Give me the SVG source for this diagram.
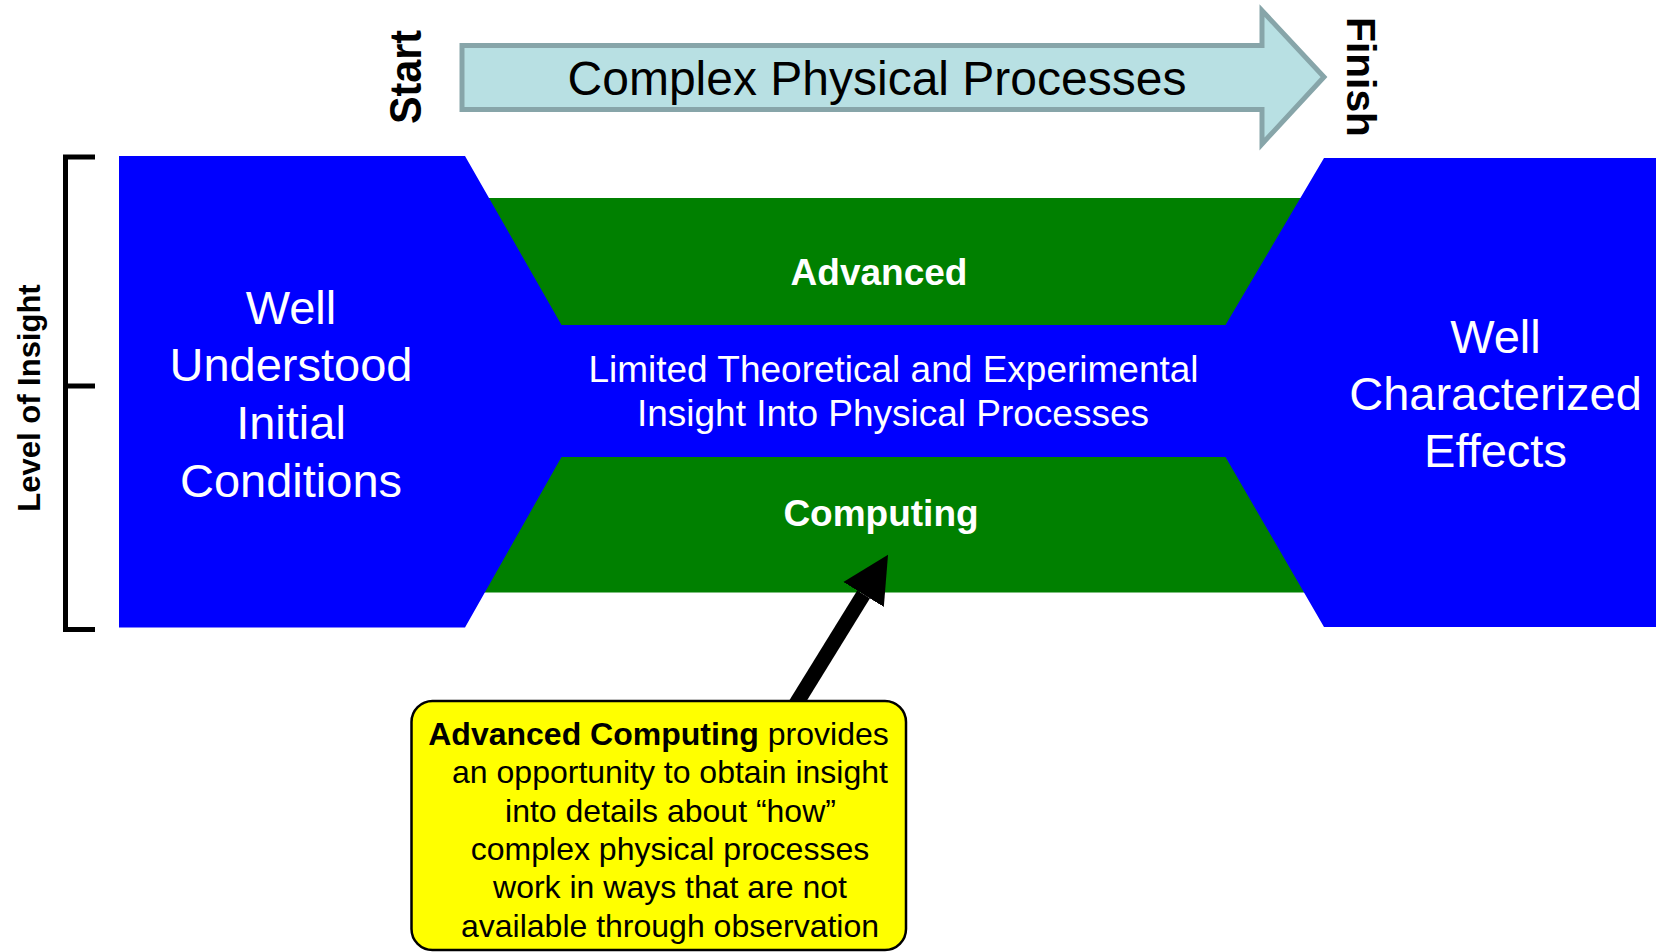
<svg xmlns="http://www.w3.org/2000/svg" width="1656" height="952" viewBox="0 0 1656 952">
  <style>
    text { font-family: "Liberation Sans", Arial, sans-serif; }
    .white { fill: #ffffff; }
    .big { font-size: 47px; text-anchor: middle; }
    .band { font-size: 37px; font-weight: bold; text-anchor: middle; }
    .mid { font-size: 37px; text-anchor: middle; }
    .note { font-size: 32px; fill: #000000; text-anchor: middle; }
    .side { font-weight: bold; fill: #000000; }
    .blue { fill: #0000ff; }
    .green { fill: #008000; }
  </style>
  <defs>
    <marker id="head" markerUnits="userSpaceOnUse" markerWidth="50" markerHeight="50"
            refX="0" refY="25" orient="auto" viewBox="0 0 50 50">
      <path d="M0,1.25 L46.5,25 L0,48.75 Z" fill="#000000"/>
    </marker>
  </defs>

  <!-- Process arrow along the top -->
  <g id="process-arrow">
    <path d="M462,45.5 L1262,45.5 L1262,10.5 L1324,77 L1262,144 L1262,109.5 L462,109.5 Z"
          fill="#b8e0e3" stroke="#87a5a9" stroke-width="5" stroke-linejoin="miter"/>
    <text x="877" y="95" font-size="48" text-anchor="middle" fill="#000000">Complex Physical Processes</text>
  </g>

  <g id="start-label">
    <text class="side" font-size="44" text-anchor="middle" textLength="94" lengthAdjust="spacingAndGlyphs"
          transform="translate(421,77) rotate(-90)">Start</text>
  </g>

  <g id="finish-label">
    <text class="side" font-size="41" text-anchor="middle" textLength="120" lengthAdjust="spacingAndGlyphs"
          transform="translate(1347,77) rotate(90)">Finish</text>
  </g>

  <!-- Level of insight bracket -->
  <g id="insight-axis">
    <path d="M95,157 L65.5,157 L65.5,629.5 L95,629.5 M65.5,386 L95,386" fill="none" stroke="#000000" stroke-width="5"/>
    <text class="side" font-size="31" text-anchor="middle" transform="translate(40,398) rotate(-90)">Level of Insight</text>
  </g>

  <!-- Green bands, partly hidden beneath the blue hourglass -->
  <g id="advanced-band">
    <polygon class="green" points="470,198 1312,198 1240,326 540,326"/>
    <text class="band white" x="879" y="285">Advanced</text>
  </g>
  <g id="computing-band">
    <polygon class="green" points="540,456 1240,456 1315,592.5 470,592.5"/>
    <text class="band white" x="881" y="526">Computing</text>
  </g>

  <!-- Blue hourglass: initial conditions, limited insight, effects -->
  <g id="hourglass">
    <polygon class="blue" points="119,156 465,156 561.5,325 1225.5,325 1324,158 1656,158 1656,627 1324,627 1225.5,457 561.5,457 465,627.5 119,627.5"/>
  </g>

  <g id="initial-conditions">
    <text class="big white" x="291" y="324">Well</text>
    <text class="big white" x="291" y="381">Understood</text>
    <text class="big white" x="291" y="439">Initial</text>
    <text class="big white" x="291" y="497">Conditions</text>
  </g>

  <g id="limited-insight">
    <text class="mid white" x="893.5" y="382">Limited Theoretical and Experimental</text>
    <text class="mid white" x="893" y="425.5">Insight Into Physical Processes</text>
  </g>

  <g id="characterized-effects">
    <text class="big white" x="1495.5" y="353">Well</text>
    <text class="big white" x="1495.5" y="410">Characterized</text>
    <text class="big white" x="1495.5" y="467">Effects</text>
  </g>

  <!-- Pointer from the note to the computing band -->
  <g id="connectors">
    <line x1="791" y1="712" x2="863.6" y2="594.4" stroke="#000000" stroke-width="15" marker-end="url(#head)"/>
  </g>

  <g id="note">
    <rect x="411.5" y="701" width="494.5" height="249" rx="21" ry="21" fill="#ffff00" stroke="#000000" stroke-width="2.5"/>
    <text class="note" x="658.5" y="745"><tspan font-weight="bold">Advanced Computing</tspan> provides</text>
    <text class="note" x="670" y="783.3">an opportunity to obtain insight</text>
    <text class="note" x="670.5" y="821.7">into details about “how”</text>
    <text class="note" x="670" y="860">complex physical processes</text>
    <text class="note" x="670" y="898.3">work in ways that are not</text>
    <text class="note" x="670" y="936.7">available through observation</text>
  </g>
</svg>
